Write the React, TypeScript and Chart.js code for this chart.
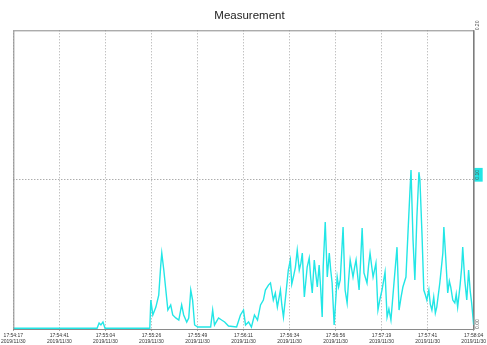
import React, { useEffect, useRef } from "react";
import { Chart, registerables } from "chart.js";

Chart.register(...registerables);

const TITLE = "Measurement";

// seconds since 17:54:17
const seconds = [
  0, 41.3, 42.3, 43.2, 44.2, 45.2, 67.3, 67.8, 68.8, 70.3, 71.7, 72.7, 73.2, 74.2, 75.2, 76.2,
  77.6, 78.6, 80.1, 81.6, 83.0, 84.0, 85.5, 86.5, 87.5, 88.4, 89.4, 90.9, 97.3, 98.3, 99.2,
  101.2, 102.7, 104.2, 106.1, 110.1, 112.0, 113.5, 114.5, 116.0, 117.4, 118.9, 120.4, 121.9,
  123.3, 124.3, 125.8, 126.8, 128.2, 129.2, 130.2, 131.7, 132.4, 133.2, 134.6, 135.6, 136.6, 137.3,
  138.1, 139.1, 140.0, 141.0, 141.8, 142.5, 143.5, 144.9, 145.9, 146.6, 147.4, 148.4, 149.1, 149.9,
  150.8, 151.6, 152.3, 152.8, 153.8, 154.8, 155.8, 156.5, 157.2, 158.2, 159.7, 160.4, 161.2, 162.6,
  163.6, 164.6, 165.3, 166.1, 167.5, 168.3, 169.0, 170.5, 171.2, 172.0, 172.9, 174.4, 175.2, 175.9,
  177.4, 178.8, 179.8, 180.8, 181.8, 183.3, 184.3, 185.2, 186.2, 187.7, 189.2, 190.2, 191.2, 192.1,
  193.6, 194.6, 195.6, 196.1, 197.1, 198.0, 199.0, 200.0, 200.5, 201.5, 202.4, 203.2, 203.9, 204.9,
  205.6, 206.4, 207.3, 208.1, 208.8, 210.3, 211.8, 212.3, 213.2, 214.2, 215.0, 215.7, 216.7, 217.7,
  218.4, 219.1, 220.3, 221.1, 221.6, 222.6, 223.6, 224.5, 225.3, 226.0, 227.0,
];

const values = [
  0.0005, 0.0005, 0.004, 0.0027, 0.0047, 0.0005, 0.0005, 0.0194, 0.0094, 0.0147, 0.0227, 0.0428,
  0.0508, 0.0395, 0.0261, 0.0127, 0.0161, 0.0094, 0.0074, 0.006, 0.0161, 0.0094, 0.0047, 0.0074,
  0.0261, 0.0194, 0.0027, 0.0013, 0.0013, 0.0127, 0.0027, 0.0074, 0.006, 0.0047, 0.002, 0.0013,
  0.0094, 0.0127, 0.0027, 0.0047, 0.0013, 0.0094, 0.006, 0.0161, 0.0194, 0.0261, 0.0294, 0.0308,
  0.0194, 0.0241, 0.0147, 0.0261, 0.0161, 0.008, 0.0261, 0.0395, 0.0462, 0.0301, 0.0348, 0.0415,
  0.0528, 0.0395, 0.0441, 0.0508, 0.0214, 0.0415, 0.0475, 0.0348, 0.0241, 0.0462, 0.0375, 0.0281,
  0.0428, 0.0261, 0.008, 0.0415, 0.0716, 0.0348, 0.0508, 0.0395, 0.0308, 0.0027, 0.0348, 0.0281,
  0.0328, 0.0682, 0.0261, 0.0174, 0.0321, 0.0462, 0.0348, 0.0415, 0.0462, 0.0261, 0.0441, 0.0676,
  0.0375, 0.0308, 0.0428, 0.0508, 0.0348, 0.0441, 0.0127, 0.0201, 0.0261, 0.0381, 0.008, 0.0134,
  0.006, 0.0308, 0.0548, 0.0127, 0.0214, 0.0281, 0.0348, 0.0642, 0.093, 0.1064, 0.0595, 0.0328,
  0.0749, 0.105, 0.0997, 0.0642, 0.0261, 0.0228, 0.0194, 0.0261, 0.0167, 0.0127, 0.0214, 0.0107,
  0.0147, 0.0308, 0.0508, 0.0682, 0.0482, 0.0241, 0.0321, 0.0281, 0.0194, 0.0174, 0.0234, 0.0147,
  0.0294, 0.0415, 0.0548, 0.0328, 0.0194, 0.0395, 0.0254, 0.0174, 0.0027,
];

const tickSeconds = [0, 22.7, 45.4, 68.1, 90.8, 113.5, 136.2, 158.9, 181.6, 204.3, 227];
const tickTimes = [
  "17:54:17", "17:54:41", "17:55:04", "17:55:26", "17:55:49", "17:56:11",
  "17:56:34", "17:56:56", "17:57:19", "17:57:41", "17:58:04",
];
const tickDates = [
  "2019/11/30", "2019/11/30", "2019/11/30", "2019/11/30", "2019/11/30", "2019/11/30",
  "2019/11/30", "2019/11/30", "2019/11/30", "2019/11/30", "2019/11/30",
];
const yTicks = [0, 0.1, 0.2];
const cursorValue = 0.1;

const LINE = "#22e6e6";

const borderPlugin = {
  id: "frame",
  afterDraw(chart: any) {
    const { ctx, chartArea } = chart;
    ctx.save();
    ctx.strokeStyle = "#8a8a8a";
    ctx.lineWidth = 1;
    ctx.setLineDash([]);
    ctx.strokeRect(chartArea.left + 0.5, chartArea.top + 0.5, chartArea.right - chartArea.left, chartArea.bottom - chartArea.top);
    ctx.restore();
  },
};

export default function App() {
  const ref = useRef<HTMLCanvasElement>(null);
  useEffect(() => {
    document.body.style.margin = "0";
    const chart = new Chart(ref.current!, {
      type: "line",
      data: {
        datasets: [
          {
            data: seconds.map((t, i) => ({ x: t, y: values[i] })),
            borderColor: LINE,
            borderWidth: 1.4,
            pointRadius: 0,
            tension: 0,
            fill: false,
          },
        ],
      },
      options: {
        animation: false,
        responsive: false,
        layout: { padding: { left: 12, right: 0, top: 0, bottom: 0 } },
        plugins: {
          legend: { display: false },
          tooltip: { enabled: false },
          title: {
            display: true,
            text: TITLE,
            color: "#222",
            font: { family: "Liberation Sans, Arial", size: 11.5, weight: "normal" },
            padding: { top: 9, bottom: 7.5 },
          },
        },
        scales: {
          x: {
            type: "linear",
            min: 0,
            max: 227,
            afterBuildTicks: (s: any) => {
              s.ticks = tickSeconds.map((v) => ({ value: v }));
            },
            afterFit: (s: any) => {
              s.height = 16;
            },
            grid: {
              color: "#a8a8a8",
              lineWidth: 1,
              tickLength: 2,
              drawTicks: true,
            } as any,
            border: { display: true, color: "#777", dash: [1, 2] },
            ticks: {
              autoSkip: false,
              maxRotation: 0,
              minRotation: 0,
              padding: 1,
              color: "#333",
              font: { family: "Liberation Sans, Arial", size: 5, lineHeight: 1.3 },
              callback: (_v: any, i: number) => [tickTimes[i], tickDates[i]],
            },
          },
          y: {
            position: "right",
            min: 0,
            max: 0.2,
            afterBuildTicks: (s: any) => {
              s.ticks = yTicks.map((v) => ({ value: v }));
            },
            afterFit: (s: any) => {
              s.width = 13;
            },
            grid: {
              color: (c: any) => (Math.abs(c.tick?.value - cursorValue) < 1e-9 ? "#888" : "rgba(0,0,0,0)"),
              drawTicks: false,
              tickLength: 0,
            } as any,
            border: { display: true, color: "#777", dash: [1, 2] },
            ticks: {
              minRotation: 90,
              maxRotation: 90,
              padding: 4,
              color: "#555",
              font: { family: "Liberation Sans, Arial", size: 5 },
              callback: (v: any) => Number(v).toFixed(2),
              showLabelBackdrop: (c: any) => Math.abs(c.tick?.value - cursorValue) < 1e-9,
              backdropColor: LINE,
              backdropPadding: 2,
            } as any,
          },
        },
      },
      plugins: [borderPlugin],
    });
    return () => chart.destroy();
  }, []);
  return <canvas ref={ref} width={487} height={345} style={{ display: "block", width: 487, height: 345 }} />;
}
